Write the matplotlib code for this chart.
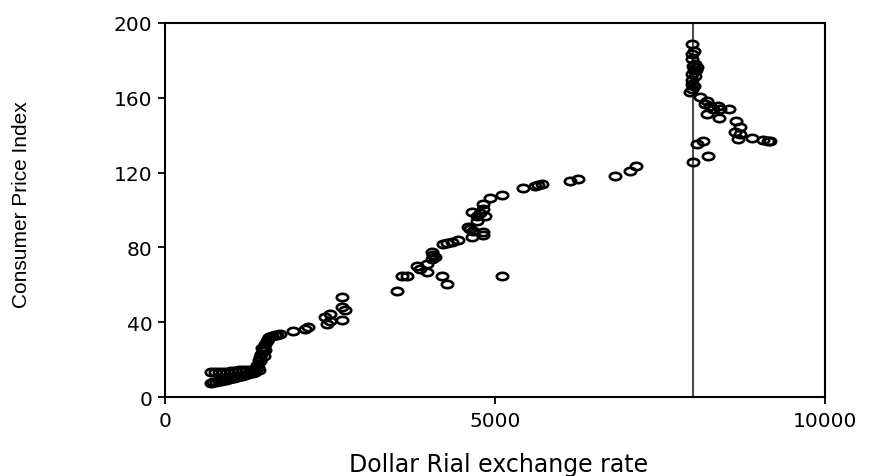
import matplotlib
matplotlib.use("Agg")
import matplotlib.pyplot as plt
import numpy as np
from matplotlib.path import Path

# dollar rial exchange rate (x) and consumer price index (y)
low_rate = [690, 730, 770, 810, 850, 890, 930, 970, 1010, 1050, 1090, 1130, 1170, 1210, 1250, 1290, 1330, 1370,
            700, 760, 820, 880, 940, 1000, 1060, 1120, 1180, 1240, 1300, 1360, 1420]
low_cpi = [7.5, 7.8, 8.0, 8.3, 8.6, 8.9, 9.2, 9.5, 9.9, 10.2, 10.6, 11.0, 11.4, 11.8, 12.2, 12.6, 13.0, 13.4,
           13.2, 13.3, 13.4, 13.5, 13.6, 13.8, 14.0, 14.2, 14.3, 14.4, 14.5, 14.6, 14.7]

rise_rate = [1380, 1400, 1410, 1430, 1440, 1445, 1460, 1480, 1470, 1500, 1500, 1520, 1520, 1540, 1560, 1580,
             1620, 1660, 1700, 1740, 1944, 2121, 2171, 2424, 2450, 2500, 2500, 2677, 2677, 2727, 2677]
rise_cpi = [15.5, 17.0, 16.0, 20.0, 19.0, 21.5, 23.0, 24.5, 26.0, 27.0, 22.0, 28.5, 25.0, 30.0, 31.0, 32.0,
            32.5, 33.0, 33.3, 33.7, 35.5, 36.4, 37.3, 42.6, 39.0, 44.4, 40.8, 53.3, 48.0, 46.5, 41.2]

mid_rate = [3510, 3586, 3662, 3813, 3863, 3965, 3965, 4040, 4065, 4040, 4091, 4192, 4268, 4217, 4268, 4343,
            4444, 4646, 4596, 4621, 4671, 4823, 4823, 4722, 4646, 4772, 4722, 4848, 4823, 4823, 4924, 5100,
            5100, 5429, 5606, 5656, 5707, 6136, 6257, 6818, 7045, 7136]
mid_cpi = [56.8, 64.5, 64.9, 69.9, 68.4, 66.7, 71.1, 73.8, 75.9, 77.4, 74.7, 64.9, 60.4, 81.8, 82.4, 83.0,
           84.1, 85.4, 90.7, 89.8, 88.9, 88.1, 86.6, 94.3, 98.8, 98.4, 97.0, 96.6, 100.5, 103.2, 106.4, 108.0,
           64.9, 111.6, 112.7, 113.4, 113.9, 115.5, 116.6, 118.3, 121.0, 123.4]

top_rate = [7990, 8010, 7990, 7990, 8030, 8060, 8010, 7990, 8030, 7990, 8010, 7990, 7960, 8000, 8040, 7985,
            8105, 8207, 8181, 8257, 8383, 8307, 8408, 8550, 8207, 8398, 8650, 8711, 8635, 8711, 8686, 8888,
            9064, 9140, 9170, 8055, 8146, 7994, 8232]
top_cpi = [188.8, 185.2, 183.4, 180.7, 178.0, 176.3, 174.6, 172.7, 171.8, 169.3, 166.5, 164.7, 163.0, 177.0,
           175.0, 167.5, 160.3, 158.5, 156.7, 155.8, 155.8, 154.0, 154.0, 154.0, 151.3, 149.2, 147.8, 144.2,
           141.5, 140.6, 138.0, 138.5, 137.4, 136.7, 136.7, 135.3, 136.7, 125.5, 128.7]

rate = low_rate + rise_rate + mid_rate + top_rate
cpi = low_cpi + rise_cpi + mid_cpi + top_cpi

break_rate = 8000
x_ticks = [0, 5000, 10000]
y_ticks = [0, 40, 80, 120, 160, 200]

# the original chart is stretched sideways, so the circles are flat ellipses
circle = Path.unit_circle()
ellipse = Path(circle.vertices * np.array([1.55, 1.0]), circle.codes)

fig = plt.figure(figsize=(8.78, 4.77), dpi=100)
ax = fig.add_axes([0.188, 0.1656, 0.7516, 0.7841])

ax.axvline(break_rate, color="#4d4d4d", lw=1.5, zorder=1)
ax.plot(rate, cpi, linestyle="none", marker=ellipse, markersize=8.2,
        markerfacecolor="none", markeredgecolor="black", markeredgewidth=1.9, zorder=2)

ax.set_xlim(0, 10000)
ax.set_ylim(0, 200)
ax.set_xticks(x_ticks)
ax.set_yticks(y_ticks)
ax.tick_params(direction="out", length=5, width=1.3, colors="black", labelsize=14.5, pad=4)
ax.tick_params(axis="x", pad=5)

for s in ax.spines.values():
    s.set_linewidth(1.5)
    s.set_color("black")

ax.set_xlabel("Dollar Rial exchange rate", fontsize=17, va="center")
ax.xaxis.set_label_coords(0.505, -0.179)
ax.set_ylabel("Consumer Price Index", fontsize=15, family="Liberation Sans", va="center")
ax.yaxis.set_label_coords(-0.217, 0.516)

plt.savefig("out.png", dpi=100)
